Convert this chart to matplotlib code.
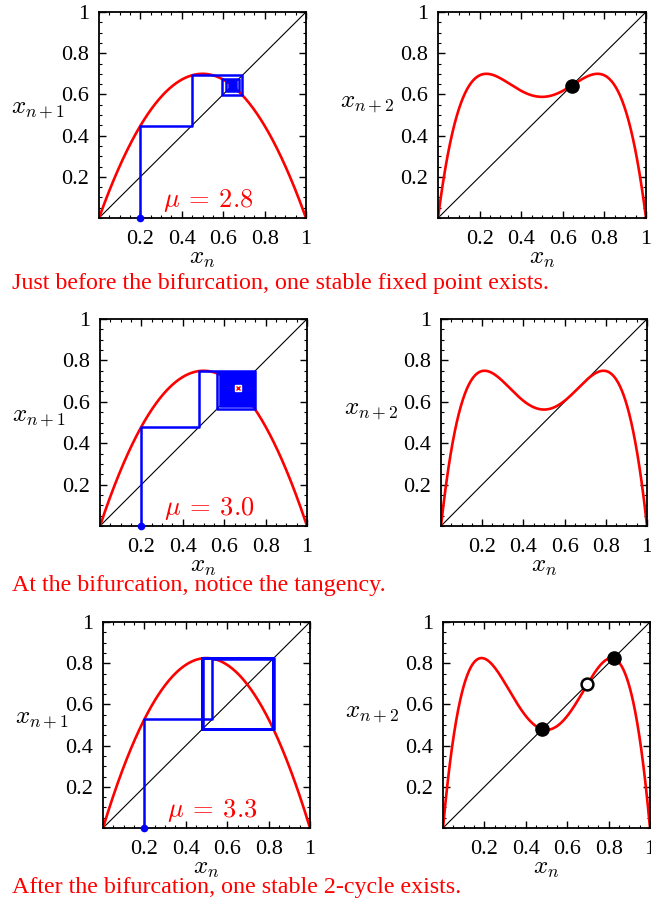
import numpy as np
import matplotlib.pyplot as plt
from matplotlib.ticker import MultipleLocator

plt.rcParams['mathtext.fontset'] = 'cm'
plt.rcParams['font.family'] = 'Liberation Serif'

# parameters
mus = [2.8, 3.0, 3.3]
mu_labels = [r'$\mu\:=\:2.8$', r'$\mu\:=\:3.0$', r'$\mu\:=\:3.3$']
x_start = 0.2
n_steps = [60, 400, 60]
captions = ['Just before the bifurcation, one stable fixed point exists.',
            'At the bifurcation, notice the tangency.',
            'After the bifurcation, one stable 2-cycle exists.']
stable_pts = [[0.643], [], [0.479, 0.824]]
unstable_pts = [[], [], [0.697]]
tick_vals = [0.2, 0.4, 0.6, 0.8, 1.0]
tick_text = ['0.2', '0.4', '0.6', '0.8', '1']

W, H = 651, 908
# axes boxes in pixels (left, top, right, bottom)
boxes_left = [(99, 12, 306, 218), (100, 319, 307, 526), (103, 622, 310, 828)]
boxes_right = [(438, 12, 646, 218), (441, 319, 647, 526), (443, 622, 650, 828)]
caption_y = [283, 586, 888]

fig = plt.figure(figsize=(W / 100, H / 100), dpi=100)


def make_ax(box):
    l, t, r, b = box
    ax = fig.add_axes([l / W, 1 - b / H, (r - l) / W, (b - t) / H])
    ax.set_xlim(0, 1)
    ax.set_ylim(0, 1)
    ax.set_xticks(tick_vals)
    ax.set_xticklabels(tick_text)
    ax.set_yticks(tick_vals)
    ax.set_yticklabels(tick_text)
    ax.xaxis.set_minor_locator(MultipleLocator(0.05))
    ax.yaxis.set_minor_locator(MultipleLocator(0.05))
    ax.tick_params(which='both', direction='in', top=True, right=True, labelsize=16)
    ax.tick_params(which='major', length=5, width=1)
    ax.tick_params(which='minor', length=2.5, width=0.8)
    ax.tick_params(axis='x', pad=9)
    ax.tick_params(axis='y', pad=7)
    for s in ax.spines.values():
        s.set_linewidth(1.3)
    ax.plot([0, 1], [0, 1], color='black', lw=0.8)
    ax.set_xlabel(r'$x_n$', fontsize=18, labelpad=-1)
    return ax


xs = np.linspace(0, 1, 600)
for i, mu in enumerate(mus):
    f = lambda x: mu * x * (1 - x)

    # cobweb
    ax = make_ax(boxes_left[i])
    ax.plot(xs, f(xs), color='red', lw=1.9, zorder=2)
    px, py = [x_start], [0.0]
    x = x_start
    for k in range(n_steps[i]):
        y = f(x)
        px += [x, y]
        py += [y, y]
        x = y
    ax.plot(px, py, color='blue', lw=1.8, zorder=3)
    ax.plot([x_start], [0], 'o', color='blue', ms=4.5, clip_on=False, zorder=4)
    if i == 1:
        fp = 1 - 1 / mu
        ax.plot([fp], [fp], 's', color='white', ms=4, zorder=5)
        ax.plot([fp], [fp], 'x', color='red', ms=3, mew=1, zorder=6)
    ax.text(0.53, 0.085, mu_labels[i], color='red', fontsize=19,
            ha='center', va='center')
    ax.set_ylabel(r'$x_{n+1}$', fontsize=18, rotation=0, labelpad=0)
    ax.yaxis.set_label_coords(-0.295, 0.47)

    # second iterate
    ax2 = make_ax(boxes_right[i])
    ax2.plot(xs, f(f(xs)), color='red', lw=1.9, zorder=2)
    for p in stable_pts[i]:
        ax2.plot([p], [p], 'o', color='black', ms=9.5, zorder=4)
    for p in unstable_pts[i]:
        ax2.plot([p], [p], 'o', mfc='white', mec='black', mew=1.8, ms=8.5, zorder=4)
    ax2.set_ylabel(r'$x_{n+2}$', fontsize=18, rotation=0, labelpad=0)
    ax2.yaxis.set_label_coords(-0.34, 0.5)

    fig.text(12 / W, 1 - caption_y[i] / H, captions[i], color='red',
             fontsize=17.3, ha='left', va='center')

fig.savefig('out.png', dpi=100)
